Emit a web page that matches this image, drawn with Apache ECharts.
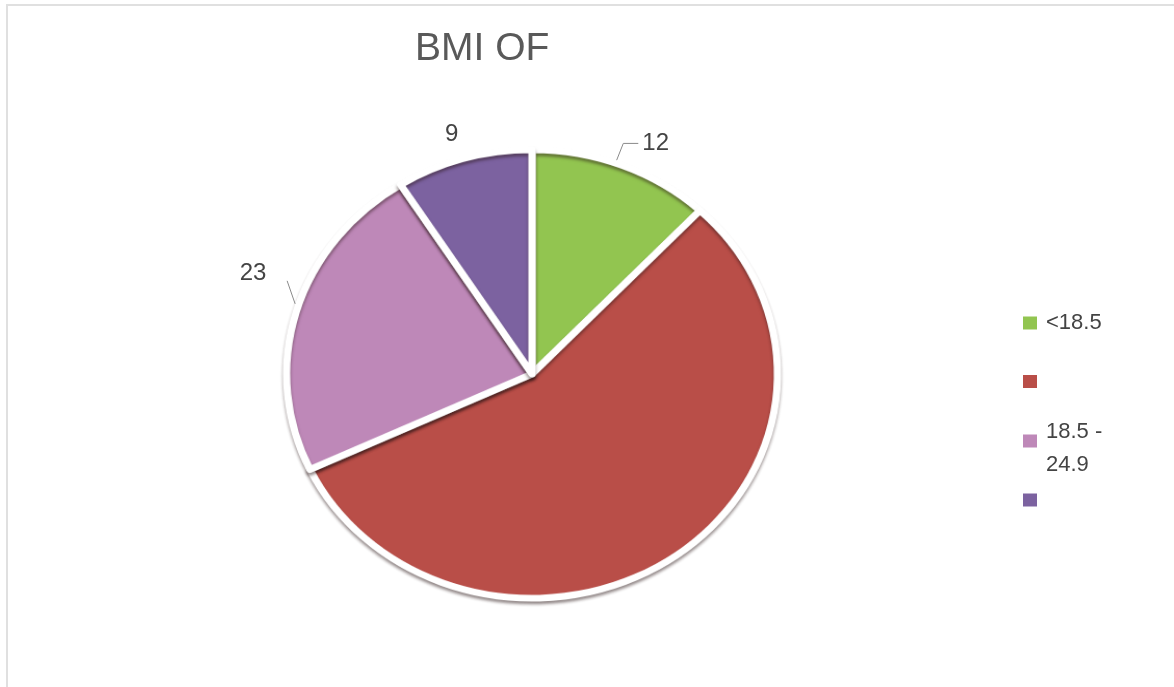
<!DOCTYPE html>
<html>
<head>
<meta charset="utf-8">
<title>BMI OF</title>
<script src="https://cdn.jsdelivr.net/npm/echarts@6/dist/echarts.min.js"></script>
<style>
  html, body { margin: 0; padding: 0; background: #ffffff; }
  #frame {
    position: absolute; left: 6px; top: 4px; width: 1168px; height: 683px;
    border-left: 2px solid #e0e0e0; border-top: 2px solid #e0e0e0;
    box-sizing: border-box;
  }
  .layer { position: absolute; left: 0; top: 0; width: 1174px; height: 687px; }
  /* the pie body is drawn on its own layer and tilted into an ellipse */
  #pie { transform-origin: 532px 374px; transform: scale(1.04, 0.95); }
</style>
</head>
<body>
<div id="frame"></div>
<div id="pie" class="layer"></div>
<div id="text" class="layer"></div>
<script>
// BMI groups and counts
const categories = ['<18.5', '', '18.5 - 24.9', ''];
const values = [12, 56, 23, 9];
const colors = ['#92c550', '#b94e48', '#be88b8', '#7c62a0'];
const showValue = [true, false, true, true];

// legend keys must be unique, so each group gets an id and shows its own text
const keys = categories.map((c, i) => 'bmi' + i);
const labelOf = name => categories[keys.indexOf(name)].replace(' - ', ' -\n');

const font = '"Liberation Sans", Arial, sans-serif';
const textColor = '#444444';
const center = [532, 374];

// ---- slices ----
const pieChart = echarts.init(document.getElementById('pie'), null, { renderer: 'canvas' });
pieChart.setOption({
  animation: false,
  series: [{
    type: 'pie',
    center: center,
    radius: [0, 236],
    startAngle: 90,
    clockwise: true,
    silent: true,
    label: { show: false },
    labelLine: { show: false },
    data: values.map((v, i) => ({ name: keys[i], value: v, itemStyle: { color: colors[i] } })),
    itemStyle: {
      borderColor: '#ffffff',
      borderWidth: 7,
      shadowColor: 'rgba(40, 20, 20, 0.45)',
      shadowBlur: 3,
      shadowOffsetY: 3
    }
  }]
});

// ---- title, legend and value labels ----
const labelData = values.map((v, i) => ({
  name: keys[i],
  value: v,
  itemStyle: { color: 'rgba(0,0,0,0)' },
  label: { show: showValue[i] }
}));
labelData[0].labelLine = { length: 18, length2: 15 };
labelData[3].labelLine = { show: false, length: 20, length2: 0 };
labelData[2].labelLine = { length: 8, length2: 6 };

const square = 'path://M0,0L14,0L14,13L0,13Z';
// icon sitting near the top line of a two-line legend entry
const squareHigh = 'path://M0,0L14,0L14,13L0,13Z M0,27L14,27';

const iconCenter = [323, 381.5, 441, 500];
const legends = keys.map((k, i) => ({
  data: [{ name: k, itemStyle: { color: colors[i], opacity: 1 } }],
  orient: 'vertical',
  left: 1023,
  top: iconCenter[i] - (i === 2 ? 26 : (categories[i] ? 16.5 : 6.5)),
  padding: 0,
  itemGap: 0,
  itemWidth: 14,
  itemHeight: i === 2 ? 27 : 13,
  icon: i === 2 ? squareHigh : square,
  itemStyle: { borderWidth: 0, shadowBlur: 0, shadowOffsetY: 0 },
  selectedMode: false,
  formatter: labelOf,
  textStyle: { fontFamily: font, fontSize: 22, color: textColor, lineHeight: 33, padding: [0, 0, 0, 4] }
}));

const textChart = echarts.init(document.getElementById('text'), null, { renderer: 'canvas' });
textChart.setOption({
  animation: false,
  title: {
    text: 'BMI OF',
    left: 410,
    top: 25,
    textStyle: { fontFamily: font, fontSize: 39, fontWeight: 'normal', color: '#595959' }
  },
  legend: legends,
  series: [{
    type: 'pie',
    center: center,
    radius: [0, 230],
    startAngle: 90,
    clockwise: true,
    silent: true,
    data: labelData,
    label: {
      position: 'outside',
      formatter: '{c}',
      fontFamily: font,
      fontSize: 24,
      color: textColor,
      distanceToLabelLine: 4
    },
    labelLine: {
      lineStyle: { color: '#8a8a8a', width: 1 }
    },
    labelLayout: function (p) {
      if (p.dataIndex !== 2) return {};
      // lift the left label above its slice and lead the line up to it
      const a = p.labelLinePoints[0];
      return {
        dx: -27,
        dy: -34,
        labelLinePoints: [[a[0] - 16, a[1] - 6], [a[0] - 24, a[1] - 29], [a[0] - 24, a[1] - 29]]
      };
    }
  }]
});
</script>
</body>
</html>
